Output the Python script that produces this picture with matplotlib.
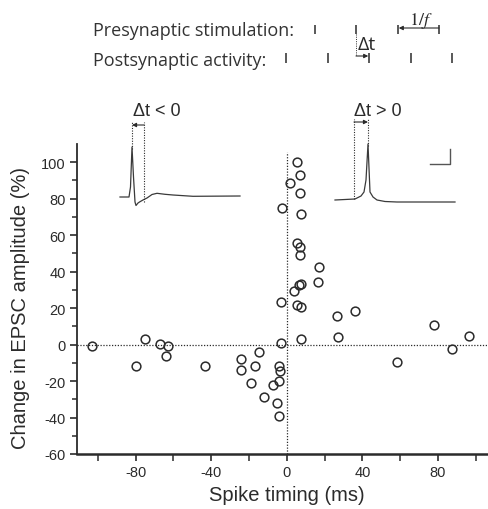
import matplotlib
matplotlib.use("Agg")
import matplotlib.pyplot as plt

plt.rcParams["font.family"] = ["Liberation Sans", "DejaVu Sans"]
plt.rcParams["axes.unicode_minus"] = False
plt.rcParams["mathtext.fontset"] = "stix"

# Spike timing (ms) vs. change in EPSC amplitude (%)
spike_timing = [-103, -80, -75, -67, -63, -64, -43, -24, -24, -17, -19, -14.5,
                -12, -7.5, -4.2, -3.5, -4.2, -5, -4, -3, -2.3, -3,
                5.6, 7, 1.7, 7.2, 7.4, 5.6, 7, 7.2, 17, 16.5, 6.7, 7.8, 4,
                5.3, 7.4, 26.5, 36, 7.6, 27, 58.5, 78, 87.5, 96.5]
epsc_change = [-1, -12, 3, 0.5, -0.5, -6, -12, -8, -14, -12, -21, -4,
               -29, -22, -12, -14.5, -20, -32, -39, 1, 75, 23.5,
               100, 93, 88.5, 83, 71.5, 55.5, 53.5, 49, 42.5, 34.5, 32.5, 33, 29.5,
               21.5, 20.5, 15.5, 18.5, 3, 4, -9.5, 11, -2.5, 4.5]

x_major = [-80, -40, 0, 40, 80]
x_minor = [-100, -60, -20, 20, 60, 100]
y_major = [-60, -40, -20, 0, 20, 40, 60, 80, 100]
y_minor = [-50, -30, -10, 10, 30, 50, 70, 90]

# Stimulation protocol, in cycles of 1/f
pre_spikes = [0, 1, 2, 3]
post_spikes = [-0.675, 0.325, 1.325, 2.325, 3.325]

# Example membrane traces (time in samples, voltage in arbitrary units)
trace_neg_t = [0, 9, 10.5, 12, 13.5, 15, 16, 18, 20, 23, 27, 32, 37, 45, 53, 73, 120]
trace_neg_v = [0, 0, 10, 50, 20, -5, -8.5, -6, -4.7, -3, -1, 2.5, 3.7, 2.7, 2, 0.7, 1]
trace_pos_t = [0, 20, 26, 29, 31, 33, 35, 38, 42, 50, 62, 120]
trace_pos_v = [0, 1, 4, 8, 20, 56, 8, 3, 0, -1.5, -2, -2]
spike_neg_peak = 12
spike_neg_mark = 24
spike_pos_onset = 19
spike_pos_peak = 33

W, H = 488, 510
ink = "#2b2b2b"
fig = plt.figure(figsize=(W / 100, H / 100), dpi=100)

# ---- main scatter ----
ax = fig.add_axes([77 / W, 55 / H, 411 / W, 310 / H])
ax.set_xlim(-111, 106.5)
ax.set_ylim(-60, 110)
for s in ("top", "right"):
    ax.spines[s].set_visible(False)
ax.spines["left"].set_linewidth(1.3)
ax.spines["bottom"].set_linewidth(1.8)
ax.spines["left"].set_color(ink)
ax.spines["bottom"].set_color(ink)
ax.spines["left"].set_bounds(-60, 110)

ax.set_xticks(x_major)
ax.set_xticks(x_minor, minor=True)
ax.set_yticks(y_major)
ax.set_yticks(y_minor, minor=True)
ax.tick_params(axis="both", which="major", length=5, width=1.2, color=ink,
               labelsize=10.5, labelcolor=ink, pad=3)
ax.tick_params(axis="both", which="minor", length=3.5, width=1.1, color=ink)
ax.tick_params(axis="x", which="both", length=5)

dots = (0, (1, 1.3))
ax.axhline(0, color=ink, lw=0.9, ls=dots, zorder=1)
ax.plot([0, 0], [-60, 105.5], color=ink, lw=0.9, ls=dots, zorder=1)

ax.plot(spike_timing, epsc_change, "o", ms=6.3, mfc="none", mec=ink, mew=1.1,
        zorder=3, clip_on=False)

ax.set_xlabel("Spike timing (ms)", fontsize=14.5, color=ink)
ax.set_ylabel("Change in EPSC amplitude (%)", fontsize=14.5, color=ink)
ax.xaxis.set_label_coords(0.511, -0.1)
ax.yaxis.set_label_coords(-0.115, 0.475)


def arrow(axis, x0, x1, y):
    axis.annotate("", xy=(x1, y), xytext=(x0, y),
                  arrowprops=dict(arrowstyle="-|>", color=ink, lw=0.8,
                                  mutation_scale=6, shrinkA=0, shrinkB=0))


# ---- example trace, post before pre ----
axl = fig.add_axes([110 / W, 1 - 215 / H, 140 / W, 120 / H])
axl.set_xlim(-10, 130)
axl.set_ylim(-17, 103)
axl.axis("off")
axl.plot(trace_neg_t, trace_neg_v, color="#3a3a3a", lw=0.9)
axl.plot([spike_neg_peak, spike_neg_peak], [48, 75], color=ink, lw=0.8, ls=dots)
axl.plot([spike_neg_mark, spike_neg_mark], [-5, 75], color=ink, lw=0.8, ls=dots)
arrow(axl, spike_neg_mark, spike_neg_peak, 72)
axl.text(37, 87, "Δt < 0", fontsize=13, ha="center", va="center", color=ink)

# ---- example trace, pre before post ----
axr = fig.add_axes([325 / W, 1 - 215 / H, 140 / W, 120 / H])
axr.set_xlim(-10, 130)
axr.set_ylim(-14, 106)
axr.axis("off")
axr.plot(trace_pos_t, trace_pos_v, color="#3a3a3a", lw=0.9)
axr.plot([spike_pos_onset, spike_pos_onset], [1, 81], color=ink, lw=0.8, ls=dots)
axr.plot([spike_pos_peak, spike_pos_peak], [54, 81], color=ink, lw=0.8, ls=dots)
arrow(axr, spike_pos_onset, spike_pos_peak, 78)
axr.text(42.5, 90, "Δt > 0", fontsize=13, ha="center", va="center", color=ink)
# scale bar
axr.plot([95, 115, 115], [36, 36, 51], color="#555555", lw=1.0)

# ---- stimulation protocol ----
axp = fig.add_axes([0, 1 - 90 / H, 1, 90 / H])
axp.set_xlim(-314.5 / 41.5, (W - 314.5) / 41.5)
axp.set_ylim(90, 0)
axp.axis("off")
label_x = (93 - 314.5) / 41.5
axp.text(label_x, 31, "Presynaptic stimulation:", fontsize=13, family="Open Sans",
         va="center", ha="left", color="#333333")
axp.text(label_x, 61, "Postsynaptic activity:", fontsize=13, family="Open Sans",
         va="center", ha="left", color="#333333")
axp.vlines(pre_spikes, 26, 35, color=ink, lw=1.1)
axp.vlines(post_spikes, 54, 64, color=ink, lw=1.1)
axp.plot([pre_spikes[1], pre_spikes[1]], [35, 57], color=ink, lw=0.7, ls=dots)
arrow(axp, pre_spikes[1], post_spikes[2] - 0.03, 57)
axp.text(pre_spikes[1] + 0.03, 45, "Δt", fontsize=14, ha="left", va="center",
         family="Open Sans", color=ink)
arrow(axp, pre_spikes[3], pre_spikes[2] + 0.03, 29)
axp.text((pre_spikes[2] + pre_spikes[3]) / 2 + 0.06, 21, r"$1/f$", fontsize=13,
         ha="center", va="center", color=ink)

fig.savefig("out.png", dpi=100)
